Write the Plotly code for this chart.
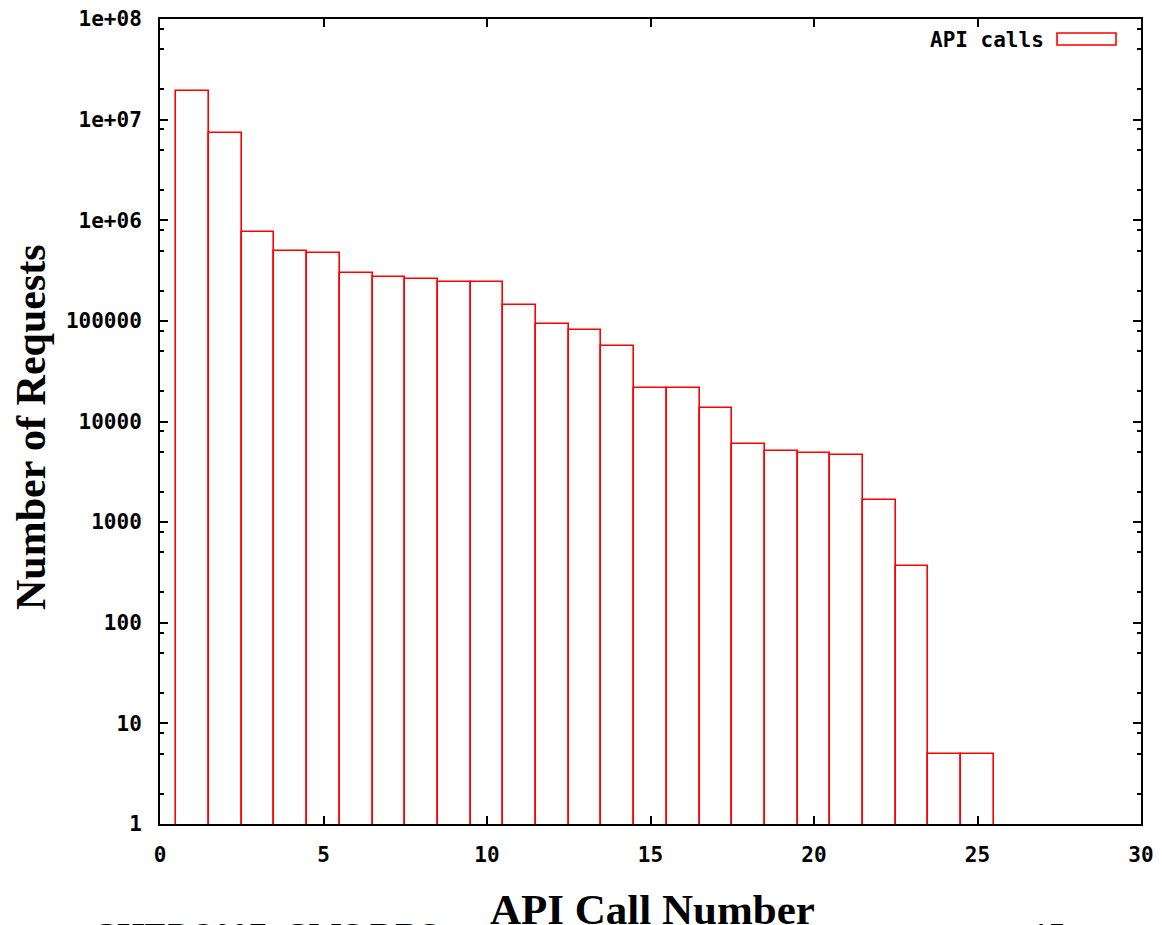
import plotly.graph_objects as go

# ---- data ----
api_call_number = list(range(1, 26))
requests = [1.91e7, 7.4e6, 7.6e5, 5.0e5, 4.78e5, 3.02e5, 2.70e5, 2.61e5, 2.41e5, 2.41e5,
            1.43e5, 9.3e4, 8.1e4, 5.6e4, 2.13e4, 2.13e4, 1.36e4, 5.93e3, 5.12e3, 4.89e3,
            4.67e3, 1.67e3, 370, 5, 5]
y_tickvals = [1, 10, 100, 1000, 10000, 100000, 1e6, 1e7, 1e8]
y_ticktext = ["1", "10", "100", "1000", "10000", "100000", "1e+06", "1e+07", "1e+08"]
y_minor = [m * 10 ** d for d in range(0, 8) for m in (2, 5, 8)]
x_tickvals = [0, 5, 10, 15, 20, 25, 30]
series_name = "API calls"

MONO = "DejaVu Sans Mono"
SERIF = "Liberation Serif"

fig = go.Figure()
fig.add_trace(go.Bar(
    x=api_call_number, y=requests, width=1, name=series_name,
    marker=dict(color="rgba(255,255,255,0)", line=dict(color="#ff0000", width=1.6)),
    showlegend=False,
))

axis_common = dict(
    showgrid=False, zeroline=False, showline=True, linecolor="black", linewidth=2,
    mirror="ticks", ticks="inside", tickcolor="black", tickwidth=2, ticklen=8,
    automargin=False, ticklabeloverflow="allow",
    tickfont=dict(family=MONO, size=21, color="black", weight="bold"),
)

fig.update_xaxes(range=[0, 30], tickmode="array", tickvals=x_tickvals,
                 ticklabelstandoff=11, **axis_common)
fig.update_yaxes(type="log", range=[0, 8], tickmode="array", tickvals=y_tickvals,
                 ticktext=y_ticktext, ticklabelstandoff=12,
                 minor=dict(tickmode="array", tickvals=y_minor, ticks="inside",
                            ticklen=4, tickwidth=2, tickcolor="black"),
                 **axis_common)

# page is offset by the 8px body margin
OFF = 8
W, H = 1162 - OFF, 925 - OFF
# desired plot area in page pixels: left 160, right 1141, top 19, bottom 824
ml, mr, mt, mb = 160 - OFF, W - (1141 - OFF), 19 - OFF, H - (824 - OFF)
pw, ph = W - ml - mr, H - mt - mb

def px(x):
    return (x - OFF - ml) / pw

def py(y):
    return (H - mb - (y - OFF)) / ph

annotations = [
    dict(text="<b>Number of Requests</b>", xref="paper", yref="paper", x=px(31), y=py(427),
         textangle=-90, showarrow=False, font=dict(family=SERIF, size=42, color="black"),
         xanchor="center", yanchor="middle"),
    dict(text="CHEP 2007, CMS DBS", xref="paper", yref="paper", x=px(90), y=py(915),
         showarrow=False, font=dict(family=SERIF, size=35, color="black", weight="bold"),
         xanchor="left", yanchor="top"),
    dict(text="15", xref="paper", yref="paper", x=px(1068), y=py(915),
         showarrow=False, font=dict(family=SERIF, size=35, color="black", weight="bold"),
         xanchor="right", yanchor="top"),
    dict(text="<b>API Call Number</b>", xref="paper", yref="paper", x=px(652), y=py(909),
         showarrow=False, font=dict(family=SERIF, size=43, color="black"),
         xanchor="center", yanchor="middle", bgcolor="white"),
    dict(text=series_name, xref="paper", yref="paper", x=px(1046), y=py(40),
         showarrow=False, font=dict(family=MONO, size=21, color="black", weight="bold"),
         xanchor="right", yanchor="middle"),
]

shapes = [
    dict(type="rect", xref="paper", yref="paper", x0=px(1057), x1=px(1116),
         y0=py(45), y1=py(33), line=dict(color="#ff0000", width=1.6), fillcolor="rgba(0,0,0,0)"),
]

fig.update_layout(
    width=W, height=H, autosize=False,
    margin=dict(l=ml, r=mr, t=mt, b=mb, pad=0),
    paper_bgcolor="white", plot_bgcolor="white",
    bargap=0, annotations=annotations, shapes=shapes,
)

fig.write_html("out.html")
